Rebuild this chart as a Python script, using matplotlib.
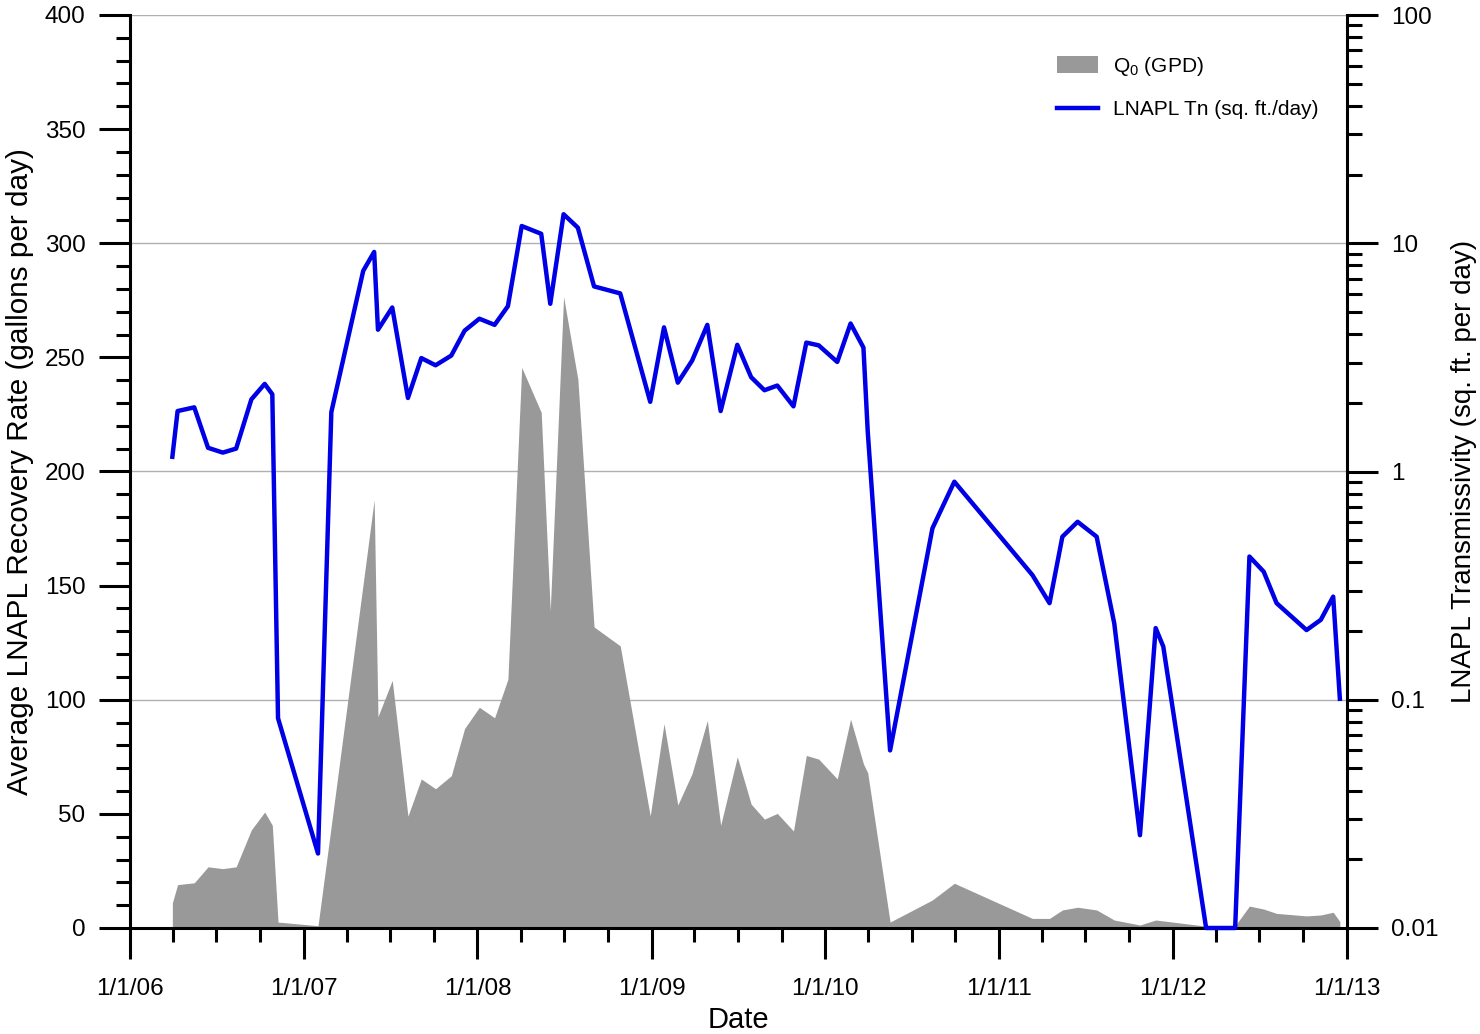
import matplotlib
matplotlib.use("Agg")
import matplotlib.pyplot as plt
import matplotlib.dates as mdates
from matplotlib.ticker import FixedLocator, MultipleLocator, FuncFormatter, NullFormatter, LogLocator
import pandas as pd

plt.rcParams["font.family"] = ["Liberation Sans", "DejaVu Sans"]
plt.rcParams["mathtext.fontset"] = "custom"
plt.rcParams["mathtext.rm"] = "Liberation Sans"
plt.rcParams["mathtext.it"] = "Liberation Sans"

# gauging dates
dates = [
    "2006-03-31", "2006-04-11", "2006-05-16", "2006-06-14", "2006-07-15", "2006-08-12",
    "2006-09-13", "2006-10-11", "2006-10-27", "2006-11-08", "2007-01-31", "2007-02-28",
    "2007-05-06", "2007-05-29", "2007-06-06", "2007-07-06", "2007-08-08", "2007-09-05",
    "2007-10-05", "2007-11-07", "2007-12-05", "2008-01-05", "2008-02-06", "2008-03-05",
    "2008-04-03", "2008-05-14", "2008-06-02", "2008-06-30", "2008-07-30", "2008-09-02",
    "2008-10-27", "2008-12-29", "2009-01-27", "2009-02-25", "2009-03-27", "2009-04-28",
    "2009-05-26", "2009-06-30", "2009-07-29", "2009-08-26", "2009-09-22", "2009-10-26",
    "2009-11-22", "2009-12-18", "2010-01-26", "2010-02-23", "2010-03-22", "2010-03-31",
    "2010-05-17", "2010-08-14", "2010-09-29", "2011-03-12", "2011-04-17", "2011-05-14",
    "2011-06-15", "2011-07-25", "2011-08-31", "2011-10-24", "2011-11-26", "2011-12-12",
    "2012-03-11", "2012-05-11", "2012-06-10", "2012-07-10", "2012-08-06", "2012-10-08",
    "2012-11-07", "2012-12-03", "2012-12-17",
]

# average LNAPL recovery rate, gallons per day
recovery_gpd = [
    11, 19, 19.8, 26.8, 26, 26.8,
    43, 50.8, 45, 2.6, 1.0, 45,
    151, 187.6, 92.6, 108.5, 49, 65.3,
    61, 66.7, 87.4, 96.7, 92.1, 109,
    245.6, 225.9, 139, 276.6, 240.4, 131.9,
    123.6, 49.1, 89.5, 53.9, 67.7, 90.9,
    45, 75, 54.3, 47.7, 50.2, 42.5,
    75.6, 74, 65.3, 91.5, 71.9, 68,
    2.6, 12.3, 19.6, 4.2, 4.2, 7.9,
    9.1, 7.9, 3.5, 1.3, 3.5, 3.1,
    0.8, 1.0, 9.6, 8.3, 6.4, 5.3,
    5.7, 6.9, 2.8,
]

# LNAPL transmissivity, sq. ft. per day
transmissivity = [
    1.16, 1.84, 1.91, 1.27, 1.21, 1.26,
    2.07, 2.42, 2.18, 0.083, 0.0212, 1.82,
    7.57, 9.16, 4.18, 5.23, 2.10, 3.14,
    2.92, 3.22, 4.14, 4.67, 4.39, 5.30,
    11.9, 11.0, 5.43, 13.4, 11.7, 6.47,
    6.03, 2.02, 4.28, 2.45, 3.06, 4.39,
    1.84, 3.59, 2.59, 2.27, 2.38, 1.93,
    3.67, 3.57, 3.02, 4.45, 3.49, 1.50,
    0.060, 0.564, 0.902, 0.352, 0.265, 0.518,
    0.602, 0.518, 0.216, 0.0255, 0.206, 0.171,
    0.01, 0.01, 0.424, 0.364, 0.265, 0.202,
    0.224, 0.283, 0.101,
]

left_ticks = [0, 50, 100, 150, 200, 250, 300, 350, 400]
right_ticks = [0.01, 0.1, 1, 10, 100]
right_labels = ["0.01", "0.1", "1", "10", "100"]

t = pd.to_datetime(dates)

fig = plt.figure(figsize=(14.8, 10.34), dpi=100)
ax = fig.add_axes([130 / 1480, 106 / 1034, 1217 / 1480, 913 / 1034])
ax2 = ax.twinx()

ax.fill_between(t, recovery_gpd, 0, color="#999999", linewidth=0, label="Q$_{\\mathregular{0}}$ (GPD)")
ax2.plot(t, transmissivity, color="#0000e6", linewidth=3.2, clip_on=False,
         label="LNAPL Tn (sq. ft./day)")

ax.set_xlim(pd.Timestamp("2006-01-01"), pd.Timestamp("2013-01-01"))
ax.set_ylim(0, 400)
ax2.set_yscale("log")
ax2.set_ylim(0.01, 100)

# gridlines sit on the decades of the right axis (100, 200, 300, 400 on the left)
ax.set_axisbelow(True)
ax.yaxis.set_major_locator(FixedLocator(left_ticks))
ax.yaxis.set_minor_locator(MultipleLocator(10))
for g in [100, 200, 300, 400]:
    ax.axhline(g, color="#b0b0b0", linewidth=1.0, zorder=0.5)

ax.xaxis.set_major_locator(mdates.YearLocator())
ax.xaxis.set_minor_locator(mdates.MonthLocator(bymonth=[4, 7, 10]))
ax.xaxis.set_major_formatter(FuncFormatter(
    lambda v, p: (lambda d: f"{d.month}/{d.day}/{d:%y}")(mdates.num2date(v))))

ax2.yaxis.set_major_locator(FixedLocator(right_ticks))
ax2.yaxis.set_major_formatter(FuncFormatter(
    lambda v, p: right_labels[right_ticks.index(min(right_ticks, key=lambda r: abs(r - v)))]))
ax2.yaxis.set_minor_locator(LogLocator(base=10, subs=range(2, 10)))
ax2.yaxis.set_minor_formatter(NullFormatter())

for a in (ax, ax2):
    a.spines["top"].set_visible(False)
    for s in a.spines.values():
        s.set_linewidth(2.2)
ax.spines["right"].set_visible(False)
ax2.spines["left"].set_visible(False)
ax2.spines["bottom"].set_visible(False)

ax.tick_params(axis="y", which="major", direction="out", length=22, width=2.2,
               labelsize=17.5, pad=10)
ax.tick_params(axis="x", which="major", direction="out", length=22, width=2.2,
               labelsize=17.5, pad=14)
ax.tick_params(axis="both", which="minor", direction="out", length=10, width=2.2)
ax2.tick_params(axis="y", which="major", direction="out", length=22, width=2.2,
                labelsize=17.5, pad=10)
ax2.tick_params(axis="y", which="minor", direction="out", length=11, width=2.2)

ax.set_xlabel("Date", fontsize=21, labelpad=4)
ax.set_ylabel("Average LNAPL Recovery Rate (gallons per day)", fontsize=21.4, labelpad=8)
ax2.set_ylabel("LNAPL Transmissivity (sq. ft. per day)", fontsize=20, labelpad=9)

h1, l1 = ax.get_legend_handles_labels()
h2, l2 = ax2.get_legend_handles_labels()
ax2.legend(h1 + h2, l1 + l2, loc="upper left", bbox_to_anchor=(1038 / 1480, 1 - 36 / 1034),
           bbox_transform=fig.transFigure, frameon=False, fontsize=15,
           handlelength=2.0, handleheight=0.9, handletextpad=0.7, labelspacing=1.05)

fig.savefig("out.png", dpi=100)
